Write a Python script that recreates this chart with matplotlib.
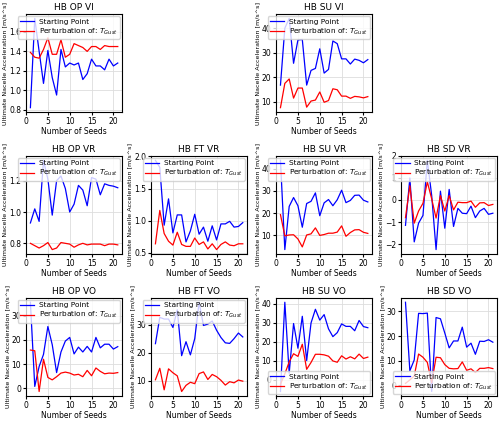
import matplotlib.pyplot as plt

seeds = list(range(1, 22))

titles = ["HB OP VI", "HB SU VI",
          "HB OP VR", "HB FT VR", "HB SU VR", "HB SD VR",
          "HB OP VO", "HB FT VO", "HB SU VO", "HB SD VO"]

# grid slot (row, col) for every panel
slots = [(0, 0), (0, 2),
         (1, 0), (1, 1), (1, 2), (1, 3),
         (2, 0), (2, 1), (2, 2), (2, 3)]

start_op_vi = [0.82, 1.74, 1.40, 1.07, 1.41, 1.13, 0.95, 1.42, 1.24, 1.28, 1.26,
               1.28, 1.11, 1.17, 1.32, 1.25, 1.25, 1.21, 1.32, 1.25, 1.28]
pert_op_vi = [1.39, 1.34, 1.33, 1.42, 1.54, 1.37, 1.37, 1.52, 1.34, 1.37, 1.48,
              1.46, 1.44, 1.40, 1.45, 1.45, 1.42, 1.46, 1.45, 1.45, 1.45]

start_su_vi = [16.8, 40.0, 44.0, 25.7, 35.2, 35.4, 16.8, 22.8, 23.6, 31.6, 21.7,
               23.2, 34.8, 33.7, 27.5, 27.5, 25.4, 27.4, 26.9, 25.9, 27.2]
pert_su_vi = [7.6, 17.5, 19.3, 11.5, 15.6, 15.6, 7.8, 10.3, 10.7, 14.0, 9.8,
              10.5, 15.3, 14.9, 12.3, 12.3, 11.4, 12.2, 12.0, 11.6, 12.1]

start_op_vr = [0.93, 1.02, 0.94, 1.33, 1.21, 0.98, 1.20, 1.23, 1.15, 1.00, 1.05,
               1.17, 1.14, 1.04, 1.22, 1.21, 1.11, 1.18, 1.17, 1.165, 1.155]
pert_op_vr = [0.80, 0.785, 0.77, 0.785, 0.805, 0.76, 0.77, 0.805, 0.80, 0.795, 0.775,
              0.79, 0.80, 0.79, 0.795, 0.795, 0.795, 0.785, 0.795, 0.795, 0.79]

start_ft_vr = [1.94, 1.83, 0.93, 1.34, 0.81, 1.09, 1.09, 0.67, 0.84, 1.10, 0.79,
               0.90, 0.68, 0.92, 0.70, 0.95, 0.95, 0.99, 0.90, 0.91, 0.97]
pert_ft_vr = [0.64, 1.16, 0.80, 0.68, 0.62, 0.82, 0.63, 0.60, 0.60, 0.73, 0.63,
              0.67, 0.56, 0.64, 0.55, 0.63, 0.67, 0.62, 0.61, 0.64, 0.64]

start_su_vr = [43.8, 3.5, 23.0, 27.0, 23.3, 13.6, 24.3, 25.3, 29.1, 18.8, 24.6,
               26.1, 23.3, 26.0, 30.3, 24.7, 25.7, 28.0, 28.1, 25.8, 25.0]
pert_su_vr = [19.3, 9.7, 10.1, 10.2, 8.3, 4.7, 10.1, 10.6, 13.3, 9.9, 10.3,
              10.9, 10.9, 11.4, 14.2, 9.5, 11.2, 12.4, 12.5, 11.3, 10.8]

start_sd_vr = [-1.15, 1.0, -1.9, -1.05, -0.7, 1.8, 0.2, -2.25, 0.4, -1.28, 0.48,
               -1.2, -0.38, -0.6, -0.62, -0.28, -0.8, -0.5, -0.38, -0.65, -0.6]
pert_sd_vr = [-0.8, 0.65, -1.05, -0.5, -0.15, 0.82, 0.05, -0.82, 0.2, -0.5, 0.2,
              -0.45, -0.1, -0.12, -0.12, -0.05, -0.33, -0.13, -0.12, -0.25, -0.2]

start_op_vo = [35.5, 0.8, 9.0, 14.0, 25.5, 18.0, 6.5, 15.0, 19.5, 21.0, 14.2,
               17.0, 15.0, 17.3, 15.0, 21.0, 16.7, 18.2, 18.2, 16.2, 17.2]
pert_op_vo = [15.8, 15.5, -1.3, 12.0, 4.5, 3.5, 4.8, 6.3, 6.7, 6.3, 5.5,
              5.8, 4.8, 7.4, 5.2, 8.4, 7.0, 6.0, 6.3, 6.2, 6.5]

start_ft_vo = [23.2, 32.6, 32.0, 32.0, 29.0, 35.3, 18.9, 23.9, 19.2, 25.0, 38.0,
               29.7, 30.2, 31.3, 28.0, 25.4, 23.5, 23.3, 25.0, 27.0, 25.6]
pert_ft_vo = [10.3, 14.4, 6.7, 14.2, 12.8, 11.7, 6.1, 8.3, 9.4, 8.9, 12.5,
              13.1, 10.4, 12.2, 11.4, 10.1, 8.4, 9.6, 9.2, 10.2, 9.8]

start_su_vo = [-6.3, 40.7, 3.3, 29.5, 16.5, 33.3, 10.0, 29.8, 37.0, 31.3, 34.2,
               26.7, 22.6, 24.7, 29.3, 28.0, 28.0, 25.7, 31.1, 27.9, 27.3]
pert_su_vo = [-2.5, 3.0, 9.3, 13.6, 12.2, 18.6, 5.4, 9.0, 13.3, 13.3, 13.0,
              12.3, 9.8, 9.1, 12.5, 10.8, 12.0, 10.9, 13.4, 11.1, 11.8]

start_sd_vo = [33.7, 5.9, 10.3, 29.2, 29.1, 29.3, -2.5, 27.5, 27.0, 21.2, 15.2,
               18.0, 18.0, 23.6, 15.5, 17.1, 12.6, 17.9, 17.8, 18.5, 17.5]
pert_sd_vo = [0.8, 2.2, 3.8, 12.7, 11.4, 9.3, 1.0, 11.4, 11.2, 8.4, 6.9,
              6.7, 6.8, 9.5, 6.1, 6.7, 5.2, 6.9, 6.9, 7.2, 6.8]

starts = [start_op_vi, start_su_vi, start_op_vr, start_ft_vr, start_su_vr, start_sd_vr,
          start_op_vo, start_ft_vo, start_su_vo, start_sd_vo]
perts = [pert_op_vi, pert_su_vi, pert_op_vr, pert_ft_vr, pert_su_vr, pert_sd_vr,
         pert_op_vo, pert_ft_vo, pert_su_vo, pert_sd_vo]
legend_locs = ["upper right"] * 8 + ["lower right", "lower right"]

fig, axes = plt.subplots(3, 4, figsize=(5.0, 4.23), dpi=100)
axes[0, 1].axis("off")
axes[0, 3].axis("off")

for title, (r, c), s, p, loc in zip(titles, slots, starts, perts, legend_locs):
    ax = axes[r, c]
    ax.plot(seeds, s, color="blue", lw=0.9, label="Starting Point")
    ax.plot(seeds, p, color="red", lw=0.9, label="Perturbation of: $T_{Gust}$")
    ax.set_title(title, fontsize=6.5, pad=3)
    ax.set_xlabel("Number of Seeds", fontsize=5.5, labelpad=1)
    ax.set_ylabel("Ultimate Nacelle Acceleration [m/s^s]", fontsize=4.6, labelpad=1)
    ax.set_xticks([0, 5, 10, 15, 20])
    ax.tick_params(labelsize=5.5, length=2, pad=1.5)
    ax.grid(True, color="#dddddd", lw=0.6)
    ax.legend(loc=loc, fontsize=5.3, handlelength=2.0, handletextpad=0.6,
              borderpad=0.3, labelspacing=0.25, borderaxespad=0.3, framealpha=0.8)

plt.tight_layout(pad=0.2, h_pad=0.6, w_pad=0.4)
plt.savefig("out.png", dpi=100)
